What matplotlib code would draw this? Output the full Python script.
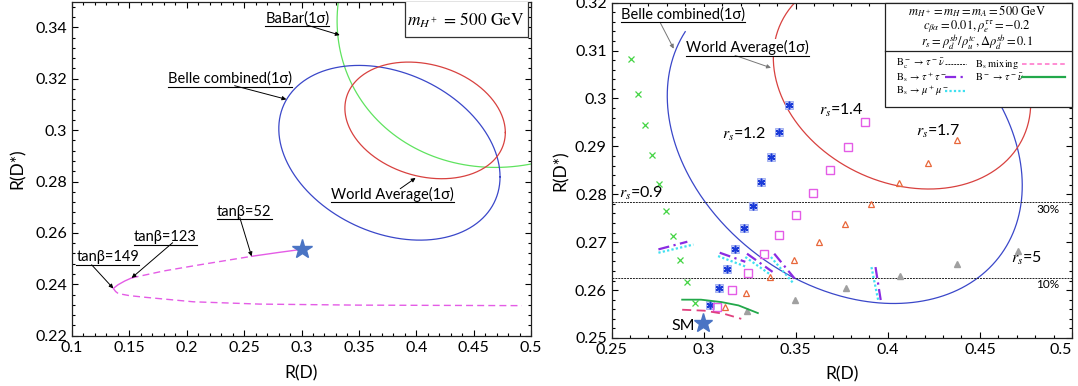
import numpy as np
import matplotlib
matplotlib.use("Agg")
import matplotlib.pyplot as plt
from matplotlib.patches import Rectangle

plt.rcParams['font.family'] = ['Lato', 'DejaVu Sans']
plt.rcParams['mathtext.fontset'] = 'stix'

# ---- left panel: type-II 2HDM curve ----
sm_point = (0.300, 0.2536)
upper_x = [0.136, 0.140, 0.146, 0.152, 0.180, 0.210, 0.2565, 0.280, 0.300]
upper_y = [0.2384, 0.2398, 0.2413, 0.2425, 0.2452, 0.2475, 0.2509, 0.2524, 0.2536]
lower_x = [0.136, 0.138, 0.1403, 0.150, 0.165, 0.2057, 0.2637, 0.350, 0.492]
lower_y = [0.2384, 0.2372, 0.2364, 0.2356, 0.2349, 0.2332, 0.2323, 0.2319, 0.2317]

# 1 sigma regions: centre x, centre y, half width, half height, tilt phase (deg)
babar_ell = [0.482, 0.348, 0.151, 0.0625, 85]
belle_ell = [0.3766, 0.2912, 0.0964, 0.034, 106]
world_ell = [0.4077, 0.3038, 0.0699, 0.0227, 102]

# ---- right panel: scan over r_s ----
rs09_x = [0.2606, 0.2643, 0.2680, 0.2717, 0.2757, 0.2793, 0.2833, 0.2870, 0.2911, 0.2952]
rs09_y = [0.3082, 0.3010, 0.2944, 0.2882, 0.2822, 0.2765, 0.2713, 0.2662, 0.2617, 0.2573]
rs12_x = [0.3461, 0.3411, 0.3363, 0.3313, 0.3267, 0.3219, 0.3172, 0.3126, 0.3082, 0.3035]
rs12_y = [0.2987, 0.2931, 0.2877, 0.2826, 0.2775, 0.2730, 0.2685, 0.2643, 0.2605, 0.2568]
rs14_x = [0.3878, 0.3782, 0.3687, 0.3593, 0.3500, 0.3411, 0.3326, 0.3239, 0.3154, 0.3074]
rs14_y = [0.2951, 0.2899, 0.2850, 0.2803, 0.2757, 0.2714, 0.2675, 0.2636, 0.2600, 0.2564]
rs17_x = [0.4374, 0.4217, 0.4063, 0.3911, 0.3769, 0.3628, 0.3491, 0.3359, 0.3232, 0.3115]
rs17_y = [0.2914, 0.2866, 0.2823, 0.2780, 0.2739, 0.2701, 0.2663, 0.2627, 0.2594, 0.2564]
rs5_x = [0.4708, 0.4378, 0.4065, 0.3772, 0.3498, 0.3233]
rs5_y = [0.2682, 0.2654, 0.2629, 0.2605, 0.2580, 0.2557]

# constraint bounds
bc_limits = [0.2783, 0.2626]
bc_labels = ["30%", "10%"]
bstautau = [[(0.2754, 0.2911), (0.2685, 0.2701)],
            [(0.3087, 0.3226), (0.2678, 0.2659)],
            [(0.3235, 0.3374), (0.2676, 0.2638)],
            [(0.3383, 0.3494), (0.2676, 0.2624)],
            [(0.3933, 0.3963), (0.2648, 0.2575)]]
bsmumu = [[(0.2754, 0.2944), (0.2678, 0.2695)],
          [(0.3078, 0.3235), (0.2671, 0.2648)],
          [(0.3226, 0.3356), (0.2669, 0.2634)],
          [(0.3365, 0.3485), (0.2669, 0.2615)],
          [(0.3911, 0.3948), (0.2648, 0.2578)]]
btaunu_x = [0.2883, 0.2985, 0.3096, 0.3189, 0.3294]
btaunu_y = [0.2580, 0.2580, 0.2575, 0.2568, 0.2552]
bsmix_x = [0.2883, 0.3004, 0.3115, 0.3204]
bsmix_y = [0.2559, 0.2557, 0.2550, 0.2540]
sm_point_r = (0.2998, 0.2531)

c_blue = '#3a47c9'
c_red = '#d8413f'
c_green = '#5fe35f'
c_mag = '#e45ce6'
c_purple = '#8a2be2'
c_cyan = '#3fe0f0'
c_star = '#4a74c4'
c_btau = '#22a84a'
c_mix = '#e0407f'

st_bc = dict(color='#222222', lw=0.7, ls=(0, (2, 1)))
st_tt = dict(color=c_purple, lw=1.6, ls=(0, (5, 2, 1, 2)))
st_mm = dict(color=c_cyan, lw=1.6, ls=(0, (1, 1)))
st_mix = dict(color=c_mix, lw=1.3, ls=(0, (5, 3)))
st_btau = dict(color=c_btau, lw=1.3)


def ellipse(p, t0=0, t1=360):
    cx, cy, rx, ry, d = p
    t = np.radians(np.linspace(t0, t1, 400))
    return cx + rx * np.cos(t), cy + ry * np.cos(t - np.radians(d))


def style_axes(ax):
    ax.tick_params(which='both', direction='in', top=True, right=True,
                   labelsize=11.5, width=0.8)
    ax.tick_params(which='major', length=4)
    ax.tick_params(which='minor', length=2)
    for s in ax.spines.values():
        s.set_linewidth(0.9)
        s.set_color('#222222')


fig = plt.figure(figsize=(10.78, 3.86), dpi=100)
ax1 = fig.add_axes([0.0668, 0.1303, 0.4258, 0.8653])
ax2 = fig.add_axes([0.5674, 0.1244, 0.4270, 0.8686])

underlined = []

# ---------------- left ----------------
for p, c in [(babar_ell, c_green), (belle_ell, c_blue), (world_ell, c_red)]:
    ex, ey = ellipse(p)
    ax1.plot(ex, ey, color=c, lw=0.9)

ax1.plot(upper_x[6:], upper_y[6:], color=c_mag, lw=1.0)
ax1.plot(upper_x[3:7], upper_y[3:7], color=c_mag, lw=1.0, ls=(0, (5, 3)))
ax1.plot(upper_x[:4], upper_y[:4], color=c_mag, lw=1.0)
ax1.plot(lower_x, lower_y, color=c_mag, lw=1.0, ls=(0, (5, 3)))
ax1.plot(*sm_point, marker='*', ms=15, color=c_star, zorder=6)

left_notes = [("BaBar(1σ)", (0.2963, 0.3436), (0.3047, 0.3409), (0.3333, 0.3370)),
              ("Belle combined(1σ)", (0.2381, 0.3199), (0.2417, 0.3173), (0.2868, 0.3120)),
              ("World Average(1σ)", (0.3793, 0.2750), (0.3860, 0.2772), (0.3994, 0.2814)),
              ("tanβ=52", (0.2501, 0.2683), (0.2462, 0.2660), (0.2565, 0.2509)),
              ("tanβ=123", (0.1811, 0.2584), (0.1877, 0.2562), (0.1520, 0.2425)),
              ("tanβ=149", (0.1312, 0.2505), (0.1171, 0.2476), (0.1360, 0.2384))]
for txt, pos, start, tip in left_notes:
    t = ax1.text(*pos, txt, fontsize=10.5, ha='center', va='center', zorder=4,
                 bbox=dict(fc='white', ec='none', pad=0.5))
    underlined.append((ax1, t, 'k'))
    ax1.annotate('', xy=tip, xytext=start, zorder=5,
                 arrowprops=dict(arrowstyle='-|>', color='k', lw=0.7,
                                 mutation_scale=6, shrinkA=0, shrinkB=0))

ax1.add_patch(Rectangle((0.390, 0.3362), 0.107, 0.0145, fc='white',
                        ec='#333333', lw=0.9, zorder=5))
ax1.text(0.4435, 0.3428, r"$m_{H^+}$ = 500 GeV", fontsize=12.5, family='STIXGeneral',
         ha='center', va='center', zorder=6)

ax1.set_xlim(0.1, 0.5)
ax1.set_ylim(0.22, 0.35)
ax1.set_xticks([0.1, 0.15, 0.2, 0.25, 0.3, 0.35, 0.4, 0.45, 0.5])
ax1.set_xticklabels(['0.1', '0.15', '0.2', '0.25', '0.3', '0.35', '0.4', '0.45', '0.5'])
ax1.set_yticks([0.22, 0.24, 0.26, 0.28, 0.3, 0.32, 0.34])
ax1.set_yticklabels(['0.22', '0.24', '0.26', '0.28', '0.3', '0.32', '0.34'])
ax1.xaxis.set_minor_locator(plt.MultipleLocator(0.01))
ax1.yaxis.set_minor_locator(plt.MultipleLocator(0.004))
ax1.set_xlabel("R(D)", fontsize=12.5)
ax1.set_ylabel("R(D*)", fontsize=12.5)
ax1.xaxis.set_label_coords(0.5, -0.09)
ax1.yaxis.set_label_coords(-0.10, 0.5)
style_axes(ax1)

# ---------------- right ----------------
ex, ey = ellipse(belle_ell, 154, 405)
ax2.plot(ex, ey, color=c_blue, lw=0.9)
ex, ey = ellipse(world_ell)
ax2.plot(ex, ey, color=c_red, lw=0.9)

for y, lab in zip(bc_limits, bc_labels):
    ax2.axhline(y, **st_bc)
    ax2.text(0.487, y - 0.0014, lab, fontsize=8.5, ha='center', va='center')

ax2.plot(rs09_x, rs09_y, ls='none', marker='x', ms=4.5, mew=0.9, color='#44d444')
ax2.plot(rs12_x, rs12_y, ls='none', marker='s', ms=5.5, mew=0.5, mfc='#c4cdf6',
         mec='#8f9fee')
ax2.plot(rs12_x, rs12_y, ls='none', marker=(6, 2, 0), ms=5.5, mew=1.1, color='#1a3ad8')
ax2.plot(rs14_x, rs14_y, ls='none', marker='s', ms=5.5, mew=1.0, mfc='none', mec=c_mag)
ax2.plot(rs17_x, rs17_y, ls='none', marker='^', ms=4.5, mew=0.9, mfc='none', mec='#e8673a')
ax2.plot(rs5_x, rs5_y, ls='none', marker='^', ms=4.5, color='#a0a0a0')

for (xs, ys) in bstautau:
    ax2.plot(xs, ys, **st_tt)
for (xs, ys) in bsmumu:
    ax2.plot(xs, ys, **st_mm)
ax2.plot(btaunu_x, btaunu_y, **st_btau)
ax2.plot(bsmix_x, bsmix_y, **st_mix)
ax2.plot(*sm_point_r, marker='*', ms=14, color=c_star, zorder=6)
ax2.text(0.2889, 0.2524, "SM", fontsize=11.5, ha='center', va='center')

rs_labels = [("0.9", 0.2661, 0.2802), ("1.2", 0.3220, 0.2924), ("1.4", 0.3745, 0.2976),
             ("1.7", 0.4272, 0.2931), ("5", 0.4754, 0.2666)]
for v, x, y in rs_labels:
    ax2.text(x, y, r"$r_s$=" + v, fontsize=11.5, ha='center', va='center')

right_notes = [("Belle combined(1σ)", (0.2887, 0.3175), (0.2763, 0.3159), (0.2837, 0.3104)),
               ("World Average(1σ)", (0.3239, 0.3106), (0.3170, 0.3090), (0.3365, 0.3064))]
for txt, pos, start, tip in right_notes:
    t = ax2.text(*pos, txt, fontsize=10.5, ha='center', va='center', zorder=4,
                 bbox=dict(fc='white', ec='none', pad=0.5))
    underlined.append((ax2, t, 'k'))
    ax2.annotate('', xy=tip, xytext=start, zorder=5,
                 arrowprops=dict(arrowstyle='-|>', color='#777777', lw=0.7,
                                 mutation_scale=6, shrinkA=0, shrinkB=0))

# parameter box with the constraint key
ax2.add_patch(Rectangle((0.594, 0.69), 0.406, 0.31, transform=ax2.transAxes,
                        fc='white', ec='#222222', lw=0.9, zorder=5, clip_on=False))
ax2.plot([0.594, 1.0], [0.857, 0.857], transform=ax2.transAxes, color='#222222',
         lw=0.9, zorder=6)
box_lines = [r"$m_{H^+} = m_H = m_A = 500\ \mathrm{GeV}$",
             r"$c_{\beta\alpha} = 0.01, \rho_e^{\tau\tau} = -0.2$",
             r"$r_s = \rho_d^{sb}/\rho_u^{tc}, \Delta\rho_d^{sb} = 0.1$"]
box_y = [0.3182, 0.3150, 0.3117]
for s, y in zip(box_lines, box_y):
    ax2.text(0.4485, y, s, fontsize=9, ha='center', va='center', zorder=7)

arrow = r"\,{\rightarrow}\,"
key = [(r"$\mathrm{B_c^-}" + arrow + r"\tau^-\bar{\nu}$", st_bc, 0, 0),
       (r"$\mathrm{B_s}" + arrow + r"\tau^+\tau^-$", st_tt, 0, 1),
       (r"$\mathrm{B_s}" + arrow + r"\mu^+\mu^-$", st_mm, 0, 2),
       (r"$\mathrm{B_s\ mixing}$", dict(st_mix, color='#ff6fc8', lw=1.1, ls=(0, (3, 2))), 1, 0),
       (r"$\mathrm{B^-}" + arrow + r"\tau^-\bar{\nu}$", dict(st_btau, lw=1.6), 1, 1)]
key_rows = [0.3072, 0.3044, 0.3016]
key_text_x = [0.4044, 0.4473]
key_line_x = [(0.4309, 0.4422), (0.4728, 0.4960)]
for lab, st, col, row in key:
    y = key_rows[row]
    ax2.text(key_text_x[col], y, lab, fontsize=7.5, ha='left', va='center', zorder=7)
    ax2.plot(key_line_x[col], [y, y], zorder=7, **st)

ax2.set_xlim(0.25, 0.5)
ax2.set_ylim(0.25, 0.32)
ax2.set_xticks([0.25, 0.3, 0.35, 0.4, 0.45, 0.5])
ax2.set_xticklabels(['0.25', '0.3', '0.35', '0.4', '0.45', '0.5'])
ax2.set_yticks([0.25, 0.26, 0.27, 0.28, 0.29, 0.3, 0.31, 0.32])
ax2.set_yticklabels(['0.25', '0.26', '0.27', '0.28', '0.29', '0.3', '0.31', '0.32'])
ax2.xaxis.set_minor_locator(plt.MultipleLocator(0.01))
ax2.yaxis.set_minor_locator(plt.MultipleLocator(0.002))
ax2.set_xlabel("R(D)", fontsize=12.5)
ax2.set_ylabel("R(D*)", fontsize=12.5)
ax2.xaxis.set_label_coords(0.5, -0.084)
ax2.yaxis.set_label_coords(-0.092, 0.5)
style_axes(ax2)
ax2.get_xticklabels()[-1].set_ha('right')

# underline the annotation labels
fig.canvas.draw()
rend = fig.canvas.get_renderer()
for ax, t, c in underlined:
    bb = t.get_window_extent(rend)
    inv = ax.transData.inverted()
    (x0, y0), (x1, _) = inv.transform([(bb.x0, bb.y0 - 0.5), (bb.x1, bb.y0 - 0.5)])
    ax.plot([x0, x1], [y0, y0], color=c, lw=0.8, zorder=5)

fig.savefig("out.png", dpi=100)
